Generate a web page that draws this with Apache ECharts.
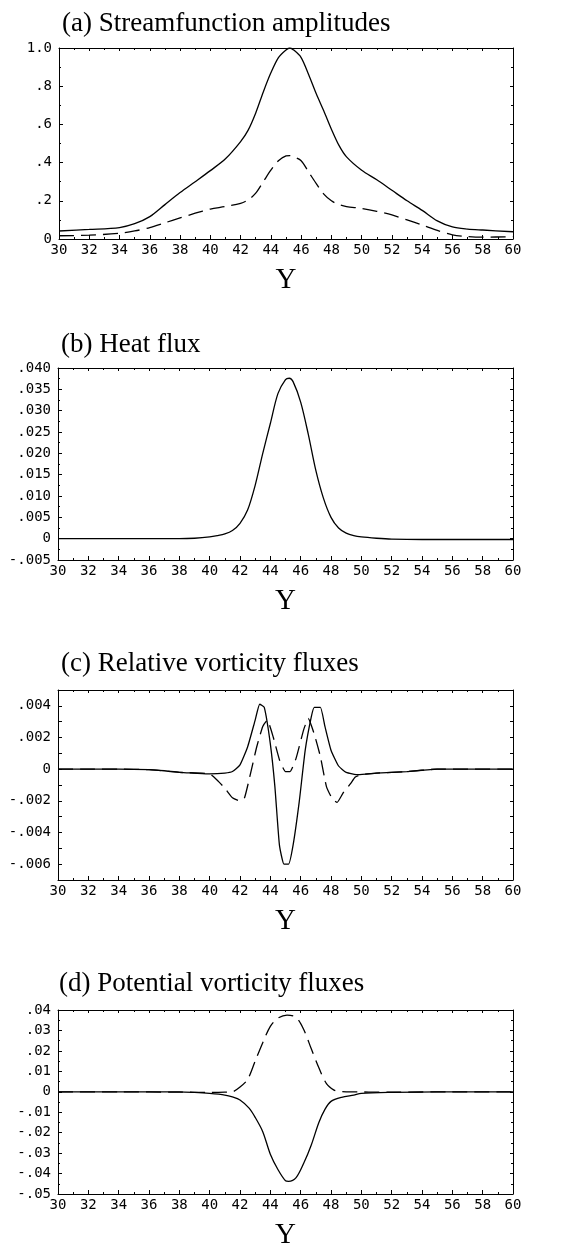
<!DOCTYPE html>
<html><head><meta charset="utf-8">
<script src="https://cdn.jsdelivr.net/npm/echarts@6/dist/echarts.min.js"></script>
<style>html,body{margin:0;padding:0;background:#fff}#c{width:583px;height:1251px}</style>
</head><body><div id="c"></div>
<script>
// ---------- data ----------
const titles = ['(a) Streamfunction amplitudes', '(b) Heat flux', '(c) Relative vorticity fluxes', '(d) Potential vorticity fluxes'];
const xAxisName = 'Y';

// (a) Streamfunction amplitudes
const aX = [30,32,34,35,36,37,38,39,40,41,42,42.5,43,43.5,44,44.5,45,45.25,45.5,46,46.5,47,47.5,48,48.5,49,50,51,52,53,54,55,56,57,58,60];
const aSolid = [0.042,0.05,0.06,0.08,0.117,0.18,0.243,0.30,0.358,0.42,0.51,0.57,0.66,0.77,0.87,0.95,0.99,1.0,0.99,0.95,0.86,0.76,0.67,0.575,0.49,0.43,0.36,0.31,0.255,0.20,0.15,0.095,0.063,0.052,0.047,0.038];
const aDashed = [0.017,0.02,0.03,0.042,0.06,0.085,0.11,0.135,0.157,0.17,0.187,0.205,0.24,0.30,0.36,0.41,0.435,0.437,0.43,0.41,0.35,0.29,0.235,0.20,0.18,0.17,0.16,0.145,0.126,0.10,0.073,0.045,0.022,0.013,0.01,0.012];

// (b) Heat flux
const bX = [30,32,34,36,38,39,40,40.5,41,41.5,42,42.5,43,43.5,44,44.5,45,45.25,45.5,46,46.5,47,47.5,48,48.5,49,49.5,50,51,52,54,56,58,60];
const bSolid = [0,0,0,0,0,0.0001,0.0004,0.0007,0.0011,0.0019,0.0036,0.0067,0.0125,0.020,0.027,0.034,0.0373,0.0376,0.0368,0.032,0.0245,0.016,0.0095,0.005,0.0025,0.0013,0.0007,0.0004,0.0001,-0.0001,-0.0002,-0.0002,-0.0002,-0.0002];

// (c) Relative vorticity fluxes
const cSolidX = [30,32,34,36,37,38,39,40,41,41.5,42,42.5,43,43.3,43.6,44,44.3,44.6,44.9,45.2,45.5,45.9,46.3,46.7,46.9,47.3,47.6,48,48.5,49,49.8,51,53,55,60];
const cSolid = [0,0,0,-0.00003,-0.0001,-0.0002,-0.00025,-0.0003,-0.00025,-0.00015,0.00027,0.0014,0.0031,0.0041,0.0039,0.0016,-0.0011,-0.0048,-0.006,-0.006,-0.0048,-0.0021,0.0012,0.0033,0.0039,0.0039,0.0027,0.0012,0.0002,-0.0002,-0.00035,-0.00025,-0.00015,0,0];
const cDashedX = [30,32,34,36,38,40,40.5,41,41.5,42,42.3,42.7,43.1,43.5,43.8,44.2,44.6,45,45.3,45.7,46.2,46.5,46.9,47.3,47.7,48.1,48.4,48.8,49.3,49.6,50,51,53,55,60];
const cDashed = [0,0,0,-0.00003,-0.0002,-0.0003,-0.0007,-0.0012,-0.0018,-0.002,-0.0018,-0.00025,0.0014,0.0027,0.0031,0.002,0.0006,-0.00015,-0.00015,0.0007,0.0025,0.0032,0.0022,0.0008,-0.0011,-0.0019,-0.0021,-0.0015,-0.0009,-0.0005,-0.00035,-0.00025,-0.00015,0,0];

// (d) Potential vorticity fluxes
const dSolidX = [30,34,38,39,40,41,41.5,42,42.6,43,43.5,44,44.5,45,45.2,45.7,46.2,46.7,47.2,47.6,48,48.7,49.5,50,52,55,60];
const dSolid = [0,0,0,-0.0003,-0.0008,-0.0016,-0.0025,-0.004,-0.008,-0.0125,-0.0195,-0.0305,-0.038,-0.0435,-0.0438,-0.042,-0.035,-0.026,-0.015,-0.0086,-0.0047,-0.0027,-0.0016,-0.0008,-0.0003,0,0];
const dDashedX = [30,34,38,40,41,41.5,42,42.5,43,43.5,44,44.5,45.1,45.7,46.2,46.7,47.2,47.7,48.2,48.5,49,52,56,60];
const dDashed = [0,0,-0.0002,-0.0003,-0.0002,0,0.0023,0.006,0.015,0.024,0.032,0.036,0.0375,0.0364,0.0305,0.021,0.0117,0.004,0.0008,0.0002,0,-0.0002,0,0];

// axis ranges
const xRange = {min: 30, max: 60, interval: 2};
const yRanges = [
  {min: 0, max: 1.0, interval: 0.2, dec: 1, minor: 2},
  {min: -0.005, max: 0.040, interval: 0.005, dec: 3, minor: 2},
  {min: -0.007, max: 0.005, interval: 0.001, dec: 3, minor: 0, every: 2},
  {min: -0.05, max: 0.04, interval: 0.01, dec: 2, minor: 2}
];

// ---------- layout ----------
const grids = [
  {left: 59, top: 48, width: 454, height: 191},
  {left: 58, top: 368, width: 455, height: 192},
  {left: 58, top: 690, width: 455, height: 190},
  {left: 58, top: 1010, width: 455, height: 192}
];
const titleTops = [10, 331, 650, 970];
const titleLefts = [62, 61, 61, 59];

function fmt(v, d) {
  if (Math.abs(v) < 1e-12) return '0';
  let s = Math.abs(v).toFixed(d);
  if (s.charAt(0) === '0') s = s.slice(1);
  return (v < 0 ? '-' : '') + s;
}
function pairs(xs, ys) { return xs.map((x, i) => [x, ys[i]]); }

const monoFont = 'DejaVu Sans Mono';
const serif = 'Liberation Serif';
const lineCol = '#000';

const xAxes = [], yAxes = [];
grids.forEach((g, i) => {
  const yr = yRanges[i];
  xAxes.push({
    type: 'value', gridIndex: i, position: 'bottom', min: xRange.min, max: xRange.max, interval: xRange.interval,
    name: xAxisName, nameLocation: 'middle', nameGap: 27,
    nameTextStyle: {fontFamily: serif, fontSize: 29, color: '#000'},
    axisLine: {show: true, onZero: false, lineStyle: {color: lineCol, width: 1}},
    axisTick: {show: true, inside: true, length: 4, lineStyle: {color: lineCol}},
    minorTick: {show: true, splitNumber: 2, length: 2, lineStyle: {color: lineCol}},
    splitLine: {show: false},
    axisLabel: {fontFamily: monoFont, fontSize: 14, color: '#000', margin: 4, showMaxLabel: true, showMinLabel: true}
  });
  xAxes.push({
    type: 'value', gridIndex: i, position: 'top', min: xRange.min, max: xRange.max, interval: xRange.interval,
    axisLine: {show: true, onZero: false, lineStyle: {color: lineCol, width: 1}},
    axisTick: {show: true, inside: true, length: 3, lineStyle: {color: lineCol}},
    minorTick: {show: true, splitNumber: 2, length: 2, lineStyle: {color: lineCol}},
    splitLine: {show: false}, axisLabel: {show: false}
  });
  const labelFmt = (v) => {
    if (yr.every) {
      const k = Math.round(v / yr.interval);
      if (k % yr.every !== 0) return '';
    }
    return fmt(v, yr.dec);
  };
  yAxes.push({
    type: 'value', gridIndex: i, position: 'left', min: yr.min, max: yr.max, interval: yr.interval,
    axisLine: {show: true, onZero: false, lineStyle: {color: lineCol, width: 1}},
    axisTick: {show: true, inside: true, length: 4, lineStyle: {color: lineCol}},
    minorTick: {show: yr.minor > 0, splitNumber: yr.minor || 1, length: 2, lineStyle: {color: lineCol}},
    splitLine: {show: false},
    axisLabel: {fontFamily: monoFont, fontSize: 14, color: '#000', margin: 7, formatter: labelFmt, showMaxLabel: true, showMinLabel: true}
  });
  yAxes.push({
    type: 'value', gridIndex: i, position: 'right', min: yr.min, max: yr.max, interval: yr.interval,
    axisLine: {show: true, onZero: false, lineStyle: {color: lineCol, width: 1}},
    axisTick: {show: true, inside: true, length: 3, lineStyle: {color: lineCol}},
    minorTick: {show: yr.minor > 0, splitNumber: yr.minor || 1, length: 2, lineStyle: {color: lineCol}},
    splitLine: {show: false}, axisLabel: {show: false}
  });
});

function line(gi, data, dashed, smooth) {
  return {
    type: 'line', xAxisIndex: gi * 2, yAxisIndex: gi * 2, data: data,
    showSymbol: false, symbol: 'none', smooth: smooth, animation: false, silent: true,
    lineStyle: {color: '#000', width: 1.3, type: dashed ? [15, 7] : 'solid'}
  };
}

const series = [
  line(0, pairs(aX, aSolid), false, 0.3),
  line(0, pairs(aX, aDashed), true, 0.3),
  line(1, pairs(bX, bSolid), false, 0.3),
  line(2, pairs(cSolidX, cSolid), false, 0.15),
  line(2, pairs(cDashedX, cDashed), true, 0.15),
  line(3, pairs(dSolidX, dSolid), false, 0.3),
  line(3, pairs(dDashedX, dDashed), true, 0.3)
];

const chart = echarts.init(document.getElementById('c'), null, {renderer: 'canvas'});
chart.setOption({
  backgroundColor: '#fff',
  animation: false,
  title: titles.map((t, i) => ({
    text: t, left: titleLefts[i], top: titleTops[i], padding: 0,
    textStyle: {fontFamily: serif, fontSize: 27, fontWeight: 'normal', color: '#000'}
  })),
  grid: grids,
  xAxis: xAxes,
  yAxis: yAxes,
  series: series
});
</script>
</body></html>
